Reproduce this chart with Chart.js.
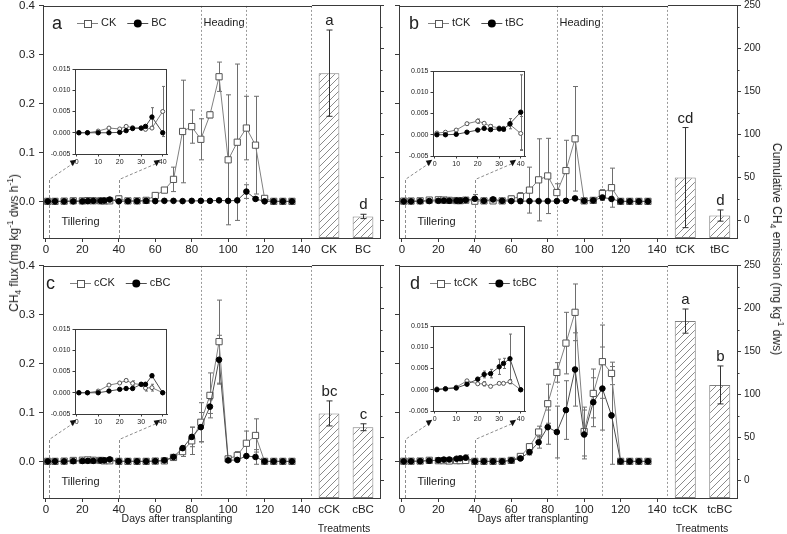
<!DOCTYPE html>
<html lang="en">
<head>
<meta charset="UTF-8">
<title>CH4 flux and cumulative emission</title>
<script src="https://cdn.jsdelivr.net/npm/chart.js"></script>
<style>
  body { margin: 0; background: #fff; }
  #fig { position: relative; width: 787px; height: 534px; overflow: hidden; background: #fff;
         font-family: "Liberation Sans", Arial, sans-serif; color: #222; }
  #fig canvas { position: absolute; }
  .lbl { position: absolute; white-space: nowrap; line-height: 1; transform: translate(-50%, -50%); z-index: 5; }
  .rot-l { transform: translate(-50%, -50%) rotate(-90deg); }
  .rot-r { transform: translate(-50%, -50%) rotate(90deg); }
  .lbl sub, .lbl sup { font-size: 70%; line-height: 0; }
</style>
</head>
<body>
<div id="fig">
  <div class="lbl rot-l" style="left:14px;top:243px;font-size:12px">CH<sub>4</sub> flux (mg kg<sup>-1</sup> dws h<sup>-1</sup>)</div>
  <div class="lbl rot-r" style="left:777px;top:249px;font-size:12px">Cumulative CH<sub>4</sub> emission (mg kg<sup>-1</sup> dws)</div>
  <div class="lbl" style="left:177px;top:518px;font-size:10.5px">Days after transplanting</div>
  <div class="lbl" style="left:533px;top:518px;font-size:10.5px">Days after transplanting</div>
  <div class="lbl" style="left:344px;top:528px;font-size:10.5px">Treatments</div>
  <div class="lbl" style="left:702px;top:528px;font-size:10.5px">Treatments</div>
</div>

<script>
  // ---------- data ----------
  const days = [1, 5, 10, 15, 20, 23, 26, 30, 32, 35, 40, 45, 50, 55, 60, 65, 70, 75, 80, 85, 90, 95, 100, 105, 110, 115, 120, 125, 130, 135];
  const insetCount = 11; // first 11 sampling days (<= 40 d) go into the insets

  const fluxTicks = [0, 0.1, 0.2, 0.3, 0.4];
  const dayTicks = [0, 20, 40, 60, 80, 100, 120, 140];
  const cumTicks = [0, 50, 100, 150, 200, 250];
  const cumMinor = [25, 75, 125, 175, 225];
  const insetFluxTicks = [-0.005, 0, 0.005, 0.010, 0.015];
  const insetDayTicks = [0, 10, 20, 30, 40];
  const stageDays = [85, 110];

  // panel a
  const ckFlux = [0, 0, 0.0004, 0.0011, 0.0009, 0.0015, 0.0012, 0.0011, 0.0008, 0.0011, 0.0050, 0.001, 0.001, 0.002, 0.012, 0.023, 0.045, 0.143, 0.153, 0.127, 0.177, 0.255, 0.085, 0.121, 0.150, 0.115, 0.006, 0, 0, 0];
  const ckErr = [0, 0, 0, 0, 0, 0, 0, 0, 0, 0, 0.0059, 0, 0, 0.001, 0.003, 0.005, 0.025, 0.105, 0.034, 0.042, 0.006, 0.03, 0.133, 0.16, 0.065, 0.1, 0.002, 0, 0, 0];
  const bcFlux = [0, 0, 0, 0, 0.0001, 0.0005, 0.0010, 0.0011, 0.0015, 0.0037, 0, 0.0005, 0.0005, 0.001, 0.0005, 0.001, 0.001, 0.0005, 0.001, 0.001, 0.001, 0.002, 0.001, 0.002, 0.020, 0.005, 0, 0, 0, 0];
  const bcErr = [0, 0, 0, 0, 0, 0, 0, 0, 0, 0.0022, 0, 0, 0, 0, 0, 0, 0, 0, 0, 0, 0, 0, 0, 0.002, 0.014, 0.003, 0, 0, 0, 0];

  // panel b
  const tckFlux = [0.0004, 0.0006, 0.0011, 0.0026, 0.0032, 0.0027, 0.0020, 0.0016, 0.0015, 0.0024, 0.0003, 0.001, 0.001, 0.001, 0.005, 0.010, 0.023, 0.044, 0.052, 0.018, 0.063, 0.128, 0.001, 0.002, 0.016, 0.028, 0, 0, 0, 0];
  const tckErr = [0, 0, 0, 0.0003, 0.0005, 0, 0.0003, 0, 0, 0, 0.004, 0, 0, 0, 0.006, 0.008, 0.047, 0.084, 0.077, 0.018, 0.062, 0.107, 0, 0.003, 0.008, 0.04, 0, 0, 0, 0];
  const tbcFlux = [0, 0, 0.0001, 0.0006, 0.0011, 0.0015, 0.0012, 0.0014, 0.0013, 0.0026, 0.0053, 0.001, 0.004, 0.001, 0.0005, 0.0005, 0.0005, 0.0005, 0.0005, 0.0005, 0.001, 0.006, 0.001, 0.002, 0.008, 0.005, 0, 0, 0, 0];
  const tbcErr = [0, 0, 0, 0, 0, 0, 0, 0.0005, 0.0004, 0.0012, 0.0088, 0, 0.004, 0, 0, 0.005, 0, 0, 0, 0, 0, 0, 0, 0, 0.006, 0, 0, 0, 0, 0];

  // panel c
  const cckFlux = [0, 0, 0.0004, 0.0018, 0.0023, 0.0029, 0.0022, 0.0019, 0.0011, 0.0012, 0, 0, 0, 0, 0.0005, 0.001, 0.008, 0.020, 0.042, 0.080, 0.135, 0.245, 0.005, 0.012, 0.037, 0.053, 0, 0, 0, 0];
  const cckErr = [0, 0, 0, 0, 0, 0.0003, 0.0006, 0, 0.0007, 0.0008, 0, 0, 0, 0, 0, 0, 0.003, 0.01, 0.028, 0.04, 0.046, 0.085, 0.003, 0.008, 0.025, 0.034, 0, 0, 0, 0];
  const cbcFlux = [0, 0, 0, 0.0004, 0.0008, 0.0010, 0.0010, 0.0020, 0.0020, 0.0040, 0, 0.0005, 0, 0, 0.0005, 0.002, 0.009, 0.027, 0.050, 0.070, 0.112, 0.208, 0.002, 0.003, 0.011, 0.009, 0, 0, 0, 0];
  const cbcErr = [0, 0, 0, 0, 0, 0, 0, 0.0004, 0, 0.0004, 0, 0, 0, 0, 0, 0, 0.003, 0.005, 0.02, 0.03, 0.014, 0.05, 0, 0, 0, 0.015, 0, 0, 0, 0];

  // panel d
  const tcckFlux = [0.0002, 0.0003, 0.0006, 0.0021, 0.0014, 0.0014, 0.0008, 0.0015, 0.0015, 0.0019, 0, 0, 0, 0, 0.002, 0.010, 0.030, 0.060, 0.118, 0.182, 0.242, 0.305, 0.061, 0.139, 0.204, 0.180, 0, 0, 0, 0];
  const tcckErr = [0, 0, 0, 0, 0, 0.0005, 0, 0, 0, 0.0005, 0, 0, 0, 0, 0, 0.003, 0.005, 0.012, 0.04, 0.02, 0.063, 0.058, 0.05, 0.05, 0.075, 0.023, 0, 0, 0, 0];
  const tcbcFlux = [0, 0.0002, 0.0004, 0.0013, 0.0025, 0.0036, 0.0038, 0.0054, 0.0062, 0.0073, 0, 0, 0, 0, 0.002, 0.006, 0.019, 0.039, 0.070, 0.060, 0.105, 0.188, 0.055, 0.121, 0.149, 0.094, 0, 0, 0, 0];
  const tcbcErr = [0, 0, 0, 0, 0, 0.0008, 0.001, 0.0018, 0.0012, 0.0058, 0, 0, 0, 0, 0, 0.003, 0.006, 0.012, 0.035, 0.053, 0.06, 0.075, 0.05, 0.05, 0.085, 0.1, 0, 0, 0, 0];

  // cumulative emission (bars)
  const cumA = [171, 5], cumAErr = [50, 2.5], sigA = ['a', 'd'];
  const cumB = [50, 6], cumBErr = [58, 6.5], sigB = ['cd', 'd'];
  const cumC = [78, 62], cumCErr = [14.5, 4], sigC = ['bc', 'c'];
  const cumD = [185, 111], cumDErr = [14, 22], sigD = ['a', 'b'];

  // ---------- look ----------
  const FONT = '"Liberation Sans", Arial, sans-serif';
  const AX = '#3a3a3a', DOT = '#9a9a9a', TXT = '#222';
  const P = 10;              // spare room around every chart area
  const H = 233;             // height of a panel's plot area
  const FLUX_MIN = -0.075, FLUX_MAX = 0.4;
  const CUM_MIN = -20, CUM_MAX = 250;
  Chart.defaults.font.family = FONT;
  Chart.defaults.color = TXT;

  const panels = [
    { id: 'a', left: 43, top: 5, sep: 312, right: 380, open: ['CK', ckFlux, ckErr], fill: ['BC', bcFlux, bcErr],
      cum: cumA, cumErr: cumAErr, sig: sigA, fluxLabels: true, cumLabels: false, heading: true,
      letterX: 9, legendX: 34, inset: [75, 69] },
    { id: 'b', left: 399, top: 5, sep: 668, right: 737, open: ['tCK', tckFlux, tckErr], fill: ['tBC', tbcFlux, tbcErr],
      cum: cumB, cumErr: cumBErr, sig: sigB, fluxLabels: false, cumLabels: true, heading: true,
      letterX: 10, legendX: 29, inset: [433, 71] },
    { id: 'c', left: 43, top: 265, sep: 312, right: 380, open: ['cCK', cckFlux, cckErr], fill: ['cBC', cbcFlux, cbcErr],
      cum: cumC, cumErr: cumCErr, sig: sigC, fluxLabels: true, cumLabels: false, heading: false,
      letterX: 3, legendX: 27, inset: [75, 329] },
    { id: 'd', left: 399, top: 265, sep: 668, right: 737, open: ['tcCK', tcckFlux, tcckErr], fill: ['tcBC', tcbcFlux, tcbcErr],
      cum: cumD, cumErr: cumDErr, sig: sigD, fluxLabels: false, cumLabels: true, heading: false,
      letterX: 11, legendX: 31, inset: [433, 326] }
  ];

  const fig = document.getElementById('fig');

  function addCanvas(l, t, w, h, axL, axR, axB, z) {
    const c = document.createElement('canvas');
    c.width = w + axL + axR + 2 * P;
    c.height = h + axB + 2 * P;
    c.style.left = (l - axL - P) + 'px';
    c.style.top = (t - P) + 'px';
    c.style.zIndex = z;
    fig.appendChild(c);
    return c;
  }

  function series(s, open, n, small) {
    return {
      label: s[0],
      errors: s[2].slice(0, n),
      data: s[1].slice(0, n).map((v, i) => ({ x: days[i], y: v })),
      borderColor: open ? '#808080' : '#4d4d4d',
      borderWidth: 1,
      pointStyle: open && !small ? 'rect' : 'circle',
      pointRadius: small ? (open ? 2 : 2.2) : (open ? 4.4 : 2.8),
      pointBackgroundColor: open ? '#fff' : '#000',
      pointBorderColor: open ? '#555' : '#000',
      pointBorderWidth: 1,
      tension: 0,
      open: open
    };
  }

  function vline(ctx, x, y0, y1) {
    const px = Math.round(x) + 0.5;
    ctx.beginPath(); ctx.moveTo(px, y0); ctx.lineTo(px, y1); ctx.stroke();
  }

  function hline(ctx, x0, x1, y) {
    const py = Math.round(y) + 0.5;
    ctx.beginPath(); ctx.moveTo(x0, py); ctx.lineTo(x1, py); ctx.stroke();
  }

  function drawErrors(chart, cap, color) {
    const { ctx, scales: { y } } = chart;
    ctx.save();
    ctx.strokeStyle = color; ctx.lineWidth = 1;
    chart.data.datasets.forEach((ds, i) => {
      const pts = chart.getDatasetMeta(i).data;
      ds.errors.forEach((e, j) => {
        if (!e) return;
        const v = ds.data[j].y, px = Math.round(pts[j].x) + 0.5;
        const t = y.getPixelForValue(v + e), b = y.getPixelForValue(v - e);
        ctx.beginPath();
        ctx.moveTo(px, t); ctx.lineTo(px, b);
        ctx.moveTo(px - cap, t); ctx.lineTo(px + cap, t);
        ctx.moveTo(px - cap, b); ctx.lineTo(px + cap, b);
        ctx.stroke();
      });
    });
    ctx.restore();
  }

  // dashed guides from the 0-40 d window up to the inset: [day, flux top, day end, flux end]
  const guides = [[1.5, 0.045, 15, 0.078], [40, 0.045, 61, 0.078]];

  function lineDeco(pn) {
    return {
      id: 'lineDeco' + pn.id,
      beforeDatasetsDraw(chart) {
        const { ctx, chartArea: a, scales: { x, y } } = chart;
        ctx.save();
        ctx.strokeStyle = DOT; ctx.lineWidth = 1; ctx.setLineDash([2, 2]);
        stageDays.forEach(d => vline(ctx, x.getPixelForValue(d), a.top, a.bottom));
        vline(ctx, a.right - 1, a.top, a.bottom);
        ctx.strokeStyle = '#8c8c8c'; ctx.setLineDash([3, 2]);
        guides.forEach(g => {
          const x0 = Math.round(x.getPixelForValue(g[0])) + 0.5, y0 = y.getPixelForValue(g[1]);
          const x1 = x.getPixelForValue(g[2]), y1 = y.getPixelForValue(g[3]);
          ctx.beginPath(); ctx.moveTo(x0, a.bottom); ctx.lineTo(x0, y0); ctx.lineTo(x1, y1); ctx.stroke();
          ctx.fillStyle = '#111';
          ctx.beginPath();
          ctx.moveTo(x1 - 3.5, y1 - 2.5); ctx.lineTo(x1 + 3, y1 - 3.5); ctx.lineTo(x1 - 0.5, y1 + 3);
          ctx.closePath(); ctx.fill();
        });
        ctx.restore();
        drawErrors(chart, 2.5, '#6e6e6e');
      },
      afterDraw(chart) {
        const { ctx, chartArea: a, scales: { x, y } } = chart;
        ctx.save();
        ctx.strokeStyle = AX; ctx.lineWidth = 1;
        hline(ctx, a.left, a.right, a.top);
        ctx.fillStyle = TXT; ctx.textBaseline = 'middle'; ctx.textAlign = 'left';
        ctx.font = '11px ' + FONT;
        if (pn.heading) ctx.fillText('Heading', x.getPixelForValue(86.5), a.top + 17);
        ctx.fillText('Tillering', x.getPixelForValue(8.5), y.getPixelForValue(-0.042));
        ctx.font = '18px ' + FONT; ctx.textBaseline = 'alphabetic';
        ctx.fillText(pn.id, a.left + pn.letterX, a.top + 23);
        // legend: open symbol first
        const ds = chart.data.datasets;
        let lx = a.left + pn.legendX;
        const ly = a.top + 17.5;
        [ds[1], ds[0]].forEach(d => {
          ctx.strokeStyle = d.borderColor; ctx.lineWidth = 1;
          hline(ctx, lx, lx + 21, ly - 0.5);
          const mx = lx + 10.5;
          ctx.fillStyle = d.pointBackgroundColor; ctx.strokeStyle = d.pointBorderColor;
          if (d.open) {
            ctx.fillRect(mx - 3.5, ly - 3.5, 7, 7);
            ctx.strokeRect(Math.round(mx - 3.5) + 0.5, Math.round(ly - 3.5) + 0.5, 7, 7);
          } else {
            ctx.beginPath(); ctx.arc(mx, ly, 4, 0, Math.PI * 2); ctx.fill();
          }
          ctx.fillStyle = TXT; ctx.font = '11px ' + FONT; ctx.textBaseline = 'middle';
          ctx.fillText(d.label, lx + 24, ly);
          lx += 24 + ctx.measureText(d.label).width + 11;
        });
        ctx.restore();
      }
    };
  }

  function lineChart(pn) {
    const cv = addCanvas(pn.left, pn.top, pn.sep - pn.left, H, 40, 0, 22, 1);
    new Chart(cv, {
      type: 'line',
      data: { datasets: [series(pn.fill, false, days.length, false), series(pn.open, true, days.length, false)] },
      options: {
        responsive: false, animation: false, events: [],
        layout: { padding: P },
        plugins: { legend: { display: false }, tooltip: { enabled: false } },
        scales: {
          x: {
            type: 'linear', min: -1.6, max: 146,
            afterBuildTicks: s => { s.ticks = dayTicks.map(v => ({ value: v })); },
            afterFit: s => { s.height = 22; },
            ticks: { font: { size: 11.5 }, padding: 1, maxRotation: 0, autoSkip: false, color: TXT },
            grid: { drawOnChartArea: false, tickLength: 4, color: AX },
            border: { color: AX }
          },
          y: {
            min: FLUX_MIN, max: FLUX_MAX,
            afterBuildTicks: s => { s.ticks = fluxTicks.map(v => ({ value: v })); },
            afterFit: s => { s.width = 40; },
            ticks: { font: { size: 11.5 }, padding: 4, color: TXT, callback: v => pn.fluxLabels ? v.toFixed(1) : '' },
            grid: { drawOnChartArea: false, tickLength: 4, color: AX },
            border: { color: AX }
          }
        }
      },
      plugins: [lineDeco(pn)]
    });
  }

  function makeHatch() {
    const s = 7, c = document.createElement('canvas');
    c.width = s; c.height = s;
    const g = c.getContext('2d');
    g.fillStyle = '#fff'; g.fillRect(0, 0, s, s);
    g.strokeStyle = '#8a8a8a'; g.lineWidth = 1;
    g.beginPath();
    g.moveTo(0, s); g.lineTo(s, 0);
    g.moveTo(-1, 1); g.lineTo(1, -1);
    g.moveTo(s - 1, s + 1); g.lineTo(s + 1, s - 1);
    g.stroke();
    return g.createPattern(c, 'repeat');
  }
  const hatch = makeHatch();

  function barDeco(pn) {
    return {
      id: 'barDeco' + pn.id,
      afterDatasetsDraw(chart) {
        const { ctx, scales: { y } } = chart;
        const bars = chart.getDatasetMeta(0).data;
        ctx.save();
        ctx.strokeStyle = '#333'; ctx.lineWidth = 1;
        ctx.fillStyle = TXT; ctx.font = '15px ' + FONT;
        ctx.textAlign = 'center'; ctx.textBaseline = 'alphabetic';
        pn.cum.forEach((v, j) => {
          const e = pn.cumErr[j], px = Math.round(bars[j].x) + 0.5;
          const t = y.getPixelForValue(v + e), b = y.getPixelForValue(v - e);
          ctx.beginPath();
          ctx.moveTo(px, t); ctx.lineTo(px, b);
          ctx.moveTo(px - 3, t); ctx.lineTo(px + 3, t);
          ctx.moveTo(px - 3, b); ctx.lineTo(px + 3, b);
          ctx.stroke();
          ctx.fillText(pn.sig[j], px, t - 5);
        });
        ctx.restore();
      },
      afterDraw(chart) {
        const { ctx, chartArea: a, scales: { y } } = chart;
        ctx.save();
        ctx.strokeStyle = AX; ctx.lineWidth = 1;
        hline(ctx, a.left, a.right + 0.5, a.top);
        cumMinor.forEach(v => hline(ctx, a.right, a.right + 2.5, y.getPixelForValue(v)));
        ctx.restore();
      }
    };
  }

  function barChart(pn) {
    const cv = addCanvas(pn.sep, pn.top, pn.right - pn.sep, H, 0, 40, 22, 1);
    new Chart(cv, {
      type: 'bar',
      data: {
        labels: [pn.open[0], pn.fill[0]],
        datasets: [{
          data: pn.cum.map(v => [CUM_MIN, v]),
          backgroundColor: hatch, borderColor: '#808080', borderWidth: 1, borderSkipped: false,
          barPercentage: 0.61, categoryPercentage: 1
        }]
      },
      options: {
        responsive: false, animation: false, events: [],
        layout: { padding: P },
        plugins: { legend: { display: false }, tooltip: { enabled: false } },
        scales: {
          x: {
            afterFit: s => { s.height = 22; },
            ticks: { font: { size: 11.5 }, padding: 5, color: TXT },
            grid: { drawOnChartArea: false, drawTicks: false, color: AX },
            border: { color: AX }
          },
          y: {
            position: 'right', min: CUM_MIN, max: CUM_MAX,
            afterBuildTicks: s => { s.ticks = cumTicks.map(v => ({ value: v })); },
            afterFit: s => { s.width = 40; },
            ticks: { font: { size: 10 }, padding: 3, color: TXT, callback: v => pn.cumLabels ? String(v) : '' },
            grid: { drawOnChartArea: false, tickLength: 4, color: AX },
            border: { color: AX }
          }
        }
      },
      plugins: [barDeco(pn)]
    });
  }

  const insetDeco = {
    id: 'insetDeco',
    beforeDraw(chart) {
      const { ctx, chartArea: a } = chart;
      ctx.save(); ctx.fillStyle = '#fff';
      ctx.fillRect(a.left, a.top, a.right - a.left, a.bottom - a.top);
      ctx.restore();
    },
    beforeDatasetsDraw(chart) { drawErrors(chart, 1.5, '#6e6e6e'); },
    afterDraw(chart) {
      const { ctx, chartArea: a } = chart;
      ctx.save(); ctx.strokeStyle = AX; ctx.lineWidth = 1;
      hline(ctx, a.left, a.right, a.top);
      vline(ctx, a.right - 1, a.top, a.bottom);
      ctx.restore();
    }
  };

  function insetChart(pn) {
    const cv = addCanvas(pn.inset[0], pn.inset[1], 92, 85, 28, 0, 13, 2);
    new Chart(cv, {
      type: 'line',
      data: { datasets: [series(pn.fill, false, insetCount, true), series(pn.open, true, insetCount, true)] },
      options: {
        responsive: false, animation: false, events: [],
        layout: { padding: P },
        plugins: { legend: { display: false }, tooltip: { enabled: false } },
        scales: {
          x: {
            type: 'linear', min: -0.8, max: 42,
            afterBuildTicks: s => { s.ticks = insetDayTicks.map(v => ({ value: v })); },
            afterFit: s => { s.height = 13; },
            ticks: { font: { size: 7 }, padding: 1, maxRotation: 0, autoSkip: false, color: TXT },
            grid: { drawOnChartArea: false, tickLength: 2.5, color: AX },
            border: { color: AX }
          },
          y: {
            min: -0.005, max: 0.015,
            afterBuildTicks: s => { s.ticks = insetFluxTicks.map(v => ({ value: v })); },
            afterFit: s => { s.width = 28; },
            ticks: { font: { size: 7 }, padding: 2, color: TXT, callback: v => v.toFixed(3) },
            grid: { drawOnChartArea: false, tickLength: 2.5, color: AX },
            border: { color: AX }
          }
        }
      },
      plugins: [insetDeco]
    });
  }

  panels.forEach(pn => {
    lineChart(pn);
    barChart(pn);
    insetChart(pn);
  });
</script>
</body>
</html>
